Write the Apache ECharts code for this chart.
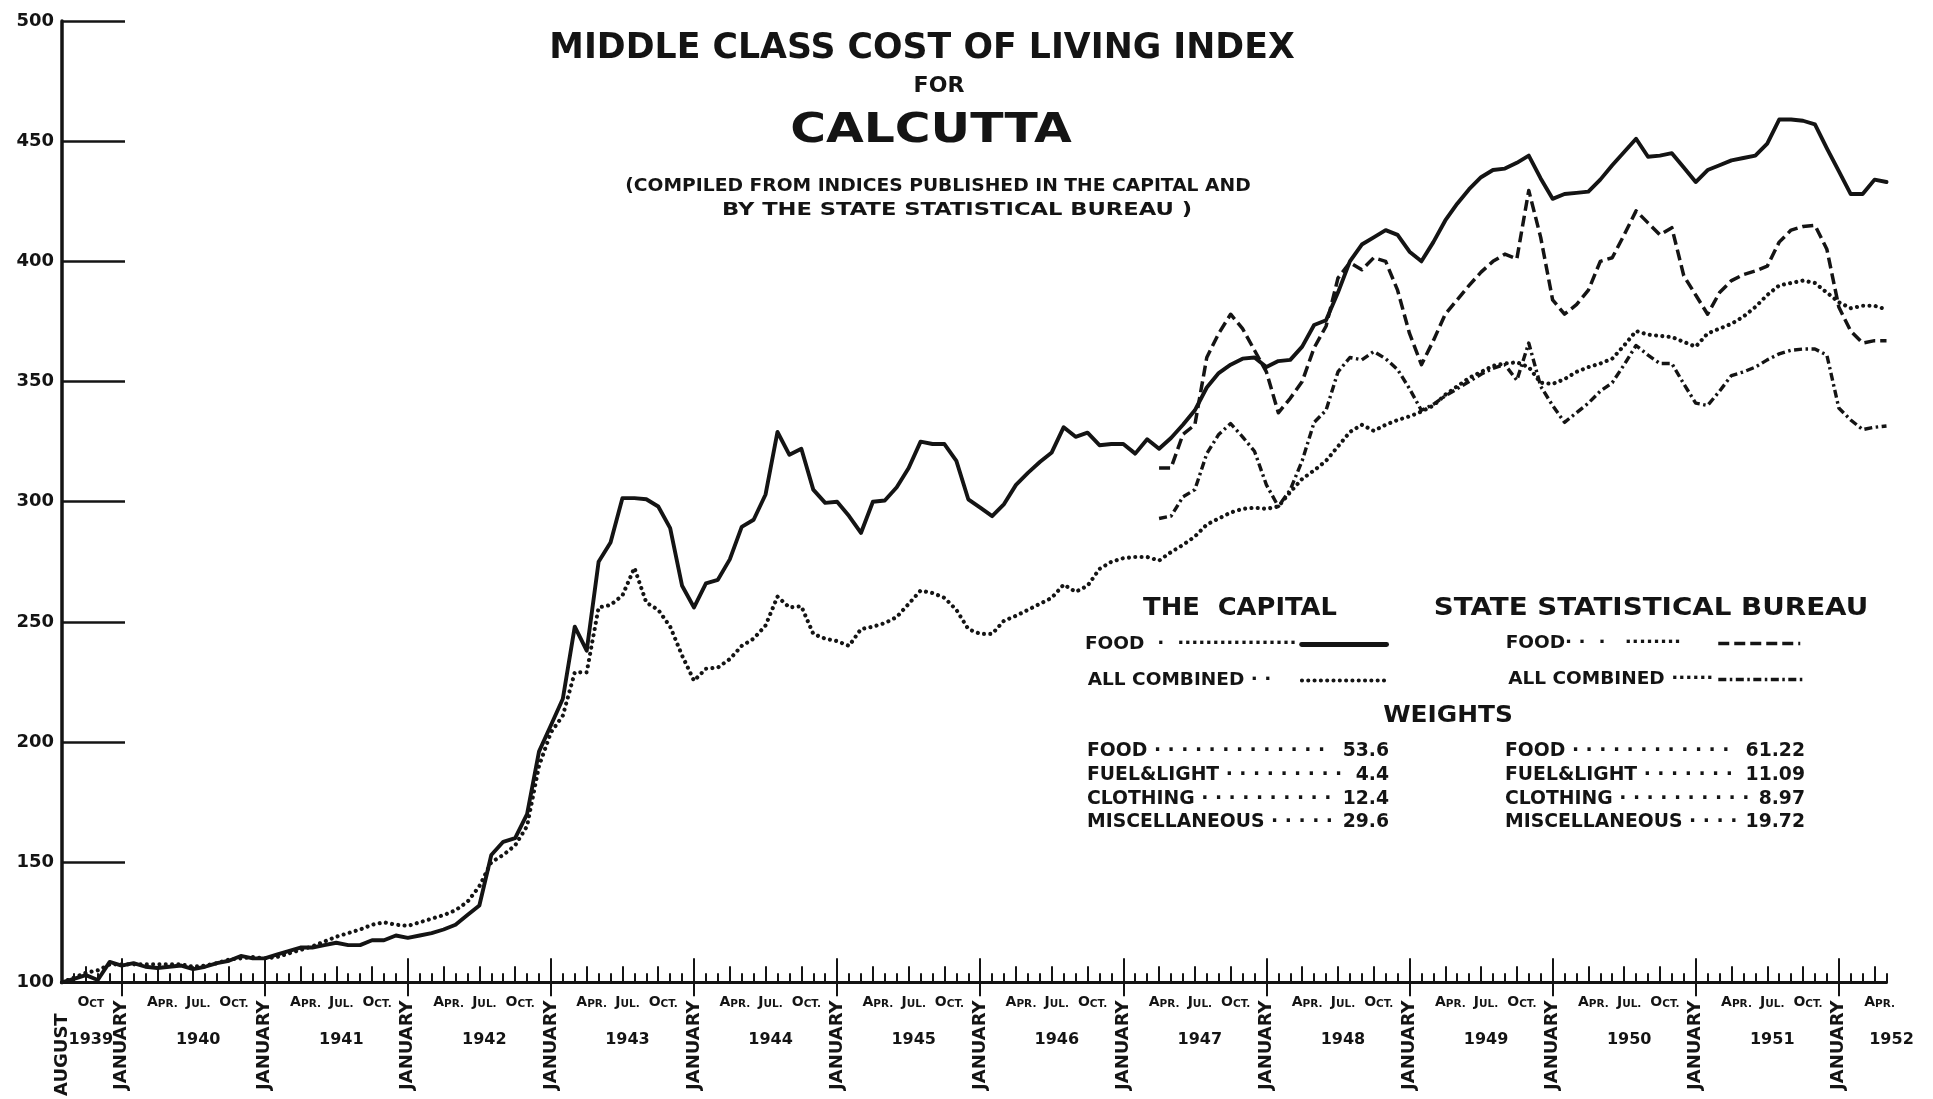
<!DOCTYPE html>
<html>
<head>
<meta charset="utf-8">
<script src="https://cdn.jsdelivr.net/npm/echarts@6/dist/echarts.min.js"></script>
<style>
html,body{margin:0;padding:0;background:#ffffff;}
#chart{width:1933px;height:1099px;}
</style>
</head>
<body>
<div id="chart"></div>
<script>
// ---------------- DATA ----------------
// Monthly categories: August 1939 (index 0) .. May 1952 (index 153)
const startYear = 1939;
const startMonth = 8;
const monthCount = 154;
const months = [];
for (let i = 0; i < monthCount; i++) {
  const k = startMonth - 1 + i;
  months.push((startYear + Math.floor(k / 12)) + '-' + String(k % 12 + 1).padStart(2, '0'));
}

// The Capital - Food (Aug 1939 .. May 1952)
const capitalFood = [
  100, 101.5, 103, 101, 108.5, 107, 108, 106.5, 106, 106.5,
  107, 105.5, 106.5, 108, 109, 111, 110, 110, 111.5, 113,
  114.5, 114.5, 115.5, 116.5, 115.5, 115.5, 117.5, 117.5, 119.5, 118.5,
  119.5, 120.5, 122, 124, 128, 132, 153, 158.5, 160, 170,
  196, 207, 218, 248, 238, 275, 283, 301.5, 301.5, 301,
  298, 289, 265, 256, 266, 267.5, 276, 289.5, 292.5, 303,
  329, 319.5, 322, 305, 299.5, 300, 294, 287, 300, 300.5,
  306, 314, 325, 324, 324, 317, 301, 297.5, 294, 299,
  307, 312, 316.5, 320.5, 331, 327, 328.7, 323.5, 324, 324,
  320, 326, 322, 326.5, 332, 338, 347.5, 353.5, 357, 359.5,
  360, 356, 358.5, 359, 364.5, 373.5, 375.5, 387, 400, 407,
  410, 413, 411, 404, 400, 408, 417, 424, 430, 435,
  438, 438.6, 441, 444, 434.5, 426, 428, 428.5, 429, 434,
  440, 445.5, 451, 443.5, 444, 445, 439, 433, 438, 440,
  442, 443, 444, 449, 459, 459, 458.5, 457, 447, 437.5,
  428, 428, 434, 433
];

// The Capital - All combined (Aug 1939 .. May 1952)
const capitalAll = [
  100, 102, 104, 105, 107.5, 107.5, 107.5, 107.5, 107.5, 107.5,
  107.5, 106.5, 107, 108, 109.5, 110, 110.5, 110, 110.5, 112,
  113.5, 115, 117, 119, 120.5, 122, 124, 125, 124, 123.5,
  125, 126.5, 128, 130, 133.5, 140, 150, 153, 157, 165,
  190, 204, 211, 229, 229, 256, 257, 261, 272.5, 258,
  255, 248, 236, 225.5, 230.5, 231, 234.5, 240, 243, 248.5,
  260.5, 256, 256.5, 245, 243, 242, 240, 247, 248, 249.5,
  252, 257.5, 263, 262, 260, 255, 247, 245, 245, 250.5,
  252.5, 255, 257.5, 260, 265.5, 262.5, 265, 272, 275, 276.5,
  277, 277, 275.5, 279, 282, 285.5, 290.5, 293, 295.5, 297,
  297.5, 297, 298, 304, 309.5, 313, 317, 323, 329, 332,
  329.5, 332, 334, 335.5, 337.5, 340, 344.5, 348, 351.5, 354,
  356.5, 357.5, 358, 356, 349.5, 349, 351, 354, 356, 357.5,
  359.5, 365, 371, 369.5, 369, 368.5, 366.5, 364.5, 370, 372,
  374, 377, 381, 386, 390, 391, 392, 391, 387, 383,
  380.5, 381.5, 381.5, 380
];

// State Statistical Bureau series start in April 1947
const ssbStart = '1947-04';
// State Statistical Bureau - Food (Apr 1947 .. May 1952)
const ssbFood = [
  314, 314, 328, 332, 360, 370, 378, 372, 363, 354,
  337, 343, 350, 364, 373, 393, 399.5, 396.5, 401.5, 400,
  388, 370, 357, 367, 378, 384, 390, 395.5, 400, 403,
  401, 429.5, 410, 384, 378, 382, 388, 400, 401.5, 411,
  421, 416, 411, 414, 394, 386, 378, 387, 392, 394.5,
  396, 398, 408, 413, 414.5, 415, 405, 381, 371, 366,
  367, 367
];
// State Statistical Bureau - All combined (Apr 1947 .. May 1952)
const ssbAll = [
  293, 294, 302, 305, 320, 328, 332.5, 327, 321, 307,
  298, 305, 317, 333, 338, 354, 360, 359, 362.5, 359.5,
  355, 347, 338, 340.5, 344, 347, 350, 353, 355.5, 357,
  350.5, 366, 348, 340, 333, 337, 341, 346, 349.5, 357,
  365, 361, 357.5, 357.5, 349, 341, 340, 346, 352.5, 354,
  356, 359, 361.5, 363, 363.5, 363.5, 361, 339, 334, 330,
  331, 331.5
];

// Axis tick labels
const yMin = 100, yMax = 500, yStep = 50;
const quarterNames = { 4: 'APR.', 7: 'JUL.', 10: 'OCT.' };
const specialQuarter = { '1939-10': 'OCT', '1952-04': 'APR.' };
const yearLabels = {
  '1939-10': '1939', '1940-07': '1940', '1941-07': '1941', '1942-07': '1942',
  '1943-07': '1943', '1944-07': '1944', '1945-07': '1945', '1946-07': '1946',
  '1947-07': '1947', '1948-07': '1948', '1949-07': '1949', '1950-07': '1950',
  '1951-07': '1951', '1952-05': '1952'
};

// Legend / annotation texts
const seriesNames = ['The Capital: Food', 'The Capital: All combined',
  'State Statistical Bureau: Food', 'State Statistical Bureau: All combined'];
const legendLabels = ['FOOD', 'ALL COMBINED', 'FOOD', 'ALL COMBINED'];
const weightLabels = ['FOOD', 'FUEL&LIGHT', 'CLOTHING', 'MISCELLANEOUS'];
const capitalWeights = ['53.6', '4.4', '12.4', '29.6'];
const ssbWeights = ['61.22', '11.09', '8.97', '19.72'];

// ---------------- CHART ----------------
const FONT = '"DejaVu Sans", "Liberation Sans", sans-serif';
const INK = '#141414';
const chart = echarts.init(document.getElementById('chart'), null, { renderer: 'canvas' });

const measureCtx = document.createElement('canvas').getContext('2d');
function textWidth(s, font) { measureCtx.font = font; return measureCtx.measureText(s).width; }
function fillLeader(prefix, unit, font, maxW) {
  let s = prefix;
  while (unit && textWidth(s + unit, font) <= maxW) s += unit;
  return s;
}

const ssbOffset = months.indexOf(ssbStart);
const pad = arr => new Array(ssbOffset).fill(null).concat(arr);
const monthOf = i => parseInt(months[i].slice(5), 10);

const styles = [
  { color: INK, width: 3.9, type: 'solid', cap: 'round', join: 'round' },
  { color: INK, width: 4.1, type: [0.01, 6.3], cap: 'round', join: 'round' },
  { color: INK, width: 3.5, type: [11, 5], cap: 'butt', join: 'round' },
  { color: INK, width: 3.4, type: [8, 3.5, 2.5, 3.5], cap: 'butt', join: 'round' }
];
const seriesData = [capitalFood, capitalAll, pad(ssbFood), pad(ssbAll)];

const baseX = {
  type: 'category', data: months, boundaryGap: false, gridIndex: 0,
  position: 'bottom', offset: 0,
  axisLine: { show: false }, axisTick: { show: false },
  axisLabel: { show: false }, splitLine: { show: false }
};
const tickLine = { color: INK, width: 2 };
const labelFont = { fontFamily: FONT, fontWeight: 'bold', color: INK };

const quarterLabel = i => {
  const key = months[i];
  if (specialQuarter[key]) return specialQuarter[key];
  if (i < 3 || i > 151) return null;
  return quarterNames[monthOf(i)] || null;
};
const smallCaps = s => '{a|' + s.charAt(0) + '}{b|' + s.slice(1) + '}';

// legend rows: text starts at textLeft, sample line spans iconLeft..iconRight
const LEG_SIZE = 18.5;
const LEG_FONT = 'bold ' + LEG_SIZE + 'px ' + FONT;
const legendRows = [
  { textLeft: 1087, iconLeft: 1304, iconRight: 1389, y: 642, sep: '  ·  ', unit: '·', gap: 0 },
  { textLeft: 1090, iconLeft: 1304, iconRight: 1389, y: 678, sep: ' · ·', unit: '', gap: 0 },
  { textLeft: 1505, iconLeft: 1720, iconRight: 1802, y: 641, sep: '· ·  ·   ', unit: '·', gap: 30 },
  { textLeft: 1506, iconLeft: 1720, iconRight: 1805, y: 677, sep: ' ', unit: '·', gap: 0 }
];
const legendTexts = legendRows.map((r, k) => {
  const target = r.iconLeft - 5 - r.textLeft;
  let s = fillLeader(legendLabels[k] + r.sep, r.unit, LEG_FONT, target - r.gap);
  while (textWidth(s + ' ', LEG_FONT) <= target + 2) s += ' ';
  return s;
});

const graphic = [];
function addText(text, x, y, size, weight, align, scaleX) {
  graphic.push({
    type: 'text', x: x, y: y, scaleX: scaleX || 1, silent: true,
    style: { text: text, fill: INK, font: weight + ' ' + size + 'px ' + FONT,
      align: align || 'center', verticalAlign: 'middle' }
  });
}
addText('MIDDLE CLASS COST OF LIVING INDEX', 922, 49, 36, 'bold', 'center', 0.965);
addText('FOR', 939, 87, 21, 'bold', 'center', 1.05);
addText('CALCUTTA', 931, 131, 41, 'bold', 'center', 1.19);
addText('(COMPILED FROM INDICES PUBLISHED IN THE CAPITAL AND', 938, 187, 17, 'bold', 'center', 1.1);
addText('BY THE STATE STATISTICAL BUREAU )', 957, 211, 17, 'bold', 'center', 1.33);
addText('THE  CAPITAL', 1240, 608, 25, 'bold', 'center', 1.03);
addText('STATE STATISTICAL BUREAU', 1651, 608, 25, 'bold', 'center', 1.11);
addText('WEIGHTS', 1448, 716, 23, 'bold', 'center', 1.08);

const WT_FONT = 'bold 18.8px ' + FONT;
const weightRowsY = [751, 775, 799, 822];
function addWeightColumn(x, rightX, values) {
  weightLabels.forEach((lab, k) => {
    const val = values[k];
    const valLeft = rightX - textWidth(val, WT_FONT);
    const lead = fillLeader(lab, ' ·', WT_FONT, valLeft - x - 7);
    graphic.push({
      type: 'text', x: x, y: weightRowsY[k], silent: true,
      style: { text: lead, fill: INK, font: WT_FONT, align: 'left', verticalAlign: 'middle' }
    });
    graphic.push({
      type: 'text', x: rightX, y: weightRowsY[k], silent: true,
      style: { text: val, fill: INK, font: WT_FONT, align: 'right', verticalAlign: 'middle' }
    });
  });
}
addWeightColumn(1087, 1389, capitalWeights);
addWeightColumn(1505, 1805, ssbWeights);

const option = {
  backgroundColor: '#ffffff',
  animation: false,
  grid: { left: 62, right: 46.5, top: 21, bottom: 116.4, containLabel: false },
  xAxis: [
    Object.assign({}, baseX, {
      axisLine: { show: true, onZero: false, lineStyle: { color: INK, width: 3 } },
      axisTick: { show: true, inside: true, length: 9, interval: 0, lineStyle: tickLine }
    }),
    Object.assign({}, baseX, {
      axisTick: { show: true, inside: true, length: 16, lineStyle: tickLine,
        interval: i => [4, 7, 10].indexOf(monthOf(i)) >= 0 },
      axisLabel: Object.assign({ show: true, margin: 11, padding: [0, 0, 0, 10],
        interval: i => quarterLabel(i) !== null,
        formatter: (v, i) => smallCaps(quarterLabel(i) || ''),
        rich: {
          a: { fontFamily: FONT, fontWeight: 'bold', fontSize: 14, color: INK, verticalAlign: 'bottom', lineHeight: 16 },
          b: { fontFamily: FONT, fontWeight: 'bold', fontSize: 10.5, color: INK, verticalAlign: 'bottom', lineHeight: 16 }
        } }, labelFont)
    }),
    Object.assign({}, baseX, {
      axisTick: { show: true, inside: true, length: 24, lineStyle: tickLine,
        interval: i => monthOf(i) === 1 }
    }),
    Object.assign({}, baseX, {
      axisTick: { show: true, inside: false, length: 14, lineStyle: tickLine,
        interval: i => monthOf(i) === 1 },
      axisLabel: Object.assign({ show: true, rotate: 90, margin: 18, fontSize: 18,
        interval: i => monthOf(i) === 1, formatter: () => 'JANUARY' }, labelFont)
    }),
    Object.assign({}, baseX, {
      axisLabel: Object.assign({ show: true, rotate: 90, margin: 31, fontSize: 18,
        interval: i => i === 0, formatter: () => 'AUGUST' }, labelFont)
    }),
    Object.assign({}, baseX, {
      axisLabel: Object.assign({ show: true, margin: 49, fontSize: 16, padding: [0, 0, 0, 10],
        interval: i => !!yearLabels[months[i]], formatter: v => yearLabels[v] || '' }, labelFont)
    })
  ],
  yAxis: {
    type: 'value', min: yMin, max: yMax, interval: yStep,
    axisLine: { show: true, lineStyle: { color: INK, width: 3.5 } },
    axisTick: { show: true, inside: true, length: 63, lineStyle: { color: INK, width: 2.6 } },
    splitLine: { show: false },
    axisLabel: Object.assign({ margin: 8, fontSize: 18 }, labelFont)
  },
  legend: legendRows.map((r, k) => ({
    data: [seriesNames[k]], right: 1933 - r.iconRight - 5, top: r.y - 12,
    align: 'right', orient: 'horizontal', selectedMode: false,
    itemWidth: r.iconRight - r.iconLeft, itemHeight: 14, itemGap: 0,
    formatter: () => legendTexts[k],
    itemStyle: { opacity: 0 },
    lineStyle: Object.assign({}, styles[k], { width: k === 0 ? 4.8 : styles[k].width }),
    textStyle: { fontFamily: FONT, fontWeight: 'bold', fontSize: LEG_SIZE, color: INK }
  })),
  graphic: graphic,
  series: seriesNames.map((name, k) => ({
    name: name, type: 'line', xAxisIndex: 0, yAxisIndex: 0,
    data: seriesData[k], symbol: 'none', showSymbol: false, smooth: false,
    connectNulls: false, silent: true, z: 5 - k,
    lineStyle: styles[k]
  }))
};
chart.setOption(option);
</script>
</body>
</html>
